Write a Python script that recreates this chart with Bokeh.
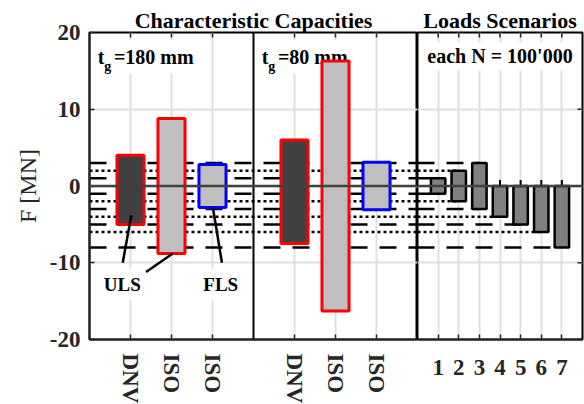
import math
from bokeh.plotting import figure
from bokeh.models import FixedTicker, Label, Range1d, Span
from bokeh.layouts import row
from bokeh.embed import file_html
from bokeh.resources import INLINE

# ---------------- data ----------------
cap_x = [1, 2, 3, 5, 6, 7]
cap_labels = ["DNV", "ISO", "ISO", "DNV", "ISO", "ISO"]
cap_top = [4, 8.8, 2.8, 6, 16.3, 3.1]
cap_bottom = [-5, -8.8, -2.8, -7.5, -16.3, -3.1]
cap_fill = ["#404040", "#bfbfbf", "#bfbfbf", "#404040", "#bfbfbf", "#bfbfbf"]
cap_edge = ["#ff0000", "#ff0000", "#0000ff", "#ff0000", "#ff0000", "#0000ff"]
panel_thickness = ["=180 mm", "=80 mm"]

load_x = [1, 2, 3, 4, 5, 6, 7]
load_top = [1, 2, 3, 0, 0, 0, 0]
load_bottom = [-1, -2, -3, -4, -5, -6, -8]

y_ticks = [-20, -10, 0, 10, 20]
y_tick_labels = ["-20", "-10", "0", "10", "20"]

FONT = "Liberation Serif"
AX = "#262626"
GRID = "#e0e0e0"

# reference lines from load extremes (alternating dashed / dotted)
dash_y, dash_x, dot_y, dot_x = [], [], [], []
for i, (xx, t, b) in enumerate(zip(load_x, load_top, load_bottom)):
    for v in (t, b):
        if v != 0:
            if i % 2 == 0:
                dash_y.append(v); dash_x.append(xx)
            else:
                dot_y.append(v); dot_x.append(xx)

DASH = "17 12"
DOT = "3 3"
VERT = math.pi / 2


def style(p):
    p.outline_line_color = "black"
    p.outline_line_width = 2
    p.outline_line_alpha = 1
    p.background_fill_color = "white"
    p.border_fill_color = "white"
    p.title.text_font = FONT
    p.title.text_font_size = "22px"
    p.title.text_font_style = "bold"
    p.title.align = "center"
    p.title.standoff = 0
    p.title.text_color = "black"
    for g in (p.xgrid, p.ygrid):
        g.grid_line_color = GRID
        g.grid_line_width = 2
    for ax in p.axis:
        ax.major_tick_in = 5
        ax.major_tick_out = 0
        ax.minor_tick_line_color = None
        ax.axis_line_color = AX
        ax.axis_line_width = 2
        ax.major_tick_line_color = AX
        ax.major_tick_line_width = 1.5
        ax.major_label_text_font = FONT
        ax.major_label_text_font_size = "23px"
        ax.major_label_text_font_style = "bold"
        ax.major_label_text_color = AX


def label(p, x, y, text, size, **kw):
    p.add_layout(Label(x=x, y=y, text=text, text_font=FONT, text_font_size=size,
                       text_font_style="bold", text_baseline="alphabetic",
                       text_color="black", **kw))


# ---------------- figure A: characteristic capacities ----------------
pa = figure(width=417, height=406, x_range=Range1d(0, 8),
            y_range=Range1d(-20, 20), output_backend="svg", toolbar_location=None,
            min_border_left=89, min_border_right=0, min_border_top=32,
            min_border_bottom=62, title="Characteristic Capacities")
style(pa)
pa.xaxis.ticker = FixedTicker(ticks=cap_x)
pa.xaxis.major_label_overrides = {x: l for x, l in zip(cap_x, cap_labels)}
pa.xaxis.major_label_orientation = "vertical"
pa.xaxis.major_label_standoff = 14
pa.yaxis.ticker = FixedTicker(ticks=y_ticks)
pa.yaxis.major_label_overrides = {v: s for v, s in zip(y_ticks, y_tick_labels)}
pa.yaxis.major_label_standoff = 9
pa.yaxis.axis_label = "F [MN]"
pa.yaxis.axis_label_text_font = FONT
pa.yaxis.axis_label_text_font_size = "24px"
pa.yaxis.axis_label_text_font_style = "normal"
pa.yaxis.axis_label_text_color = AX
pa.yaxis.axis_label_standoff = 6

# inward tick marks on the top edge (half of each mark is clipped by the frame)
pa.scatter(x=cap_x, y=[pa.y_range.end] * len(cap_x), marker="dash", angle=VERT,
           size=10, line_color=AX, line_width=1.5)

pa.segment(x0=[0] * len(dash_y), x1=[8] * len(dash_y), y0=dash_y, y1=dash_y,
           line_color="black", line_width=2.5, line_dash=DASH)
pa.segment(x0=[0] * len(dot_y), x1=[8] * len(dot_y), y0=dot_y, y1=dot_y,
           line_color="black", line_width=2.5, line_dash=DOT)
pa.vbar(x=cap_x, width=0.66, top=cap_top, bottom=cap_bottom,
        fill_color=cap_fill, line_color=cap_edge, line_width=3, level="overlay")
pa.segment(x0=[0], x1=[8], y0=[0], y1=[0], line_color="#404040", line_width=2.5,
           level="overlay")

# leader lines for ULS / FLS
pa.segment(x0=[0.81, 1.38, 3.01], y0=[-10.0, -11.2, -2.8],
           x1=[1.02, 2.03, 3.23], y1=[-3.8, -8.8, -10.0],
           line_color="black", line_width=2.5, level="overlay")

pa.add_layout(Span(location=4, dimension="height", line_color="black", line_width=2))

for px, txt in zip([0, 4], panel_thickness):
    label(pa, px + 0.45, 16.8, txt, "20px", background_fill_color="white", padding=6)
    label(pa, px + 0.2, 16.8, "t", "20px")
    label(pa, px + 0.36, 15.6, "g", "14px")

for lx, txt in [(0.8, "ULS"), (3.2, "FLS")]:
    label(pa, lx, -12.8, txt, "19px", text_align="center",
          background_fill_color="white", padding=5)

# ---------------- figure B: load scenarios ----------------
pb = figure(width=167, height=406, x_range=Range1d(0, 8),
            y_range=pa.y_range, output_backend="svg", toolbar_location=None,
            min_border_left=0, min_border_right=2, min_border_top=32,
            min_border_bottom=62, title="Loads Scenarios")
style(pb)
pb.xaxis.ticker = FixedTicker(ticks=load_x)
pb.xaxis.major_label_standoff = 20
pb.yaxis.ticker = FixedTicker(ticks=y_ticks)
pb.yaxis.visible = False

# inward tick marks on the top and right edges, and at the zero line
pb.scatter(x=load_x, y=[pb.y_range.end] * len(load_x), marker="dash", angle=VERT,
           size=10, line_color=AX, line_width=1.5)
pb.scatter(x=[pb.x_range.end] * len(y_ticks), y=y_ticks, marker="dash",
           size=10, line_color=AX, line_width=1.5)
pb.scatter(x=load_x, y=[0] * len(load_x), marker="dash", angle=VERT,
           size=12, line_color="black", line_width=2)

pb.segment(x0=[0] * len(dash_y), x1=dash_x, y0=dash_y, y1=dash_y,
           line_color="black", line_width=2.5, line_dash=DASH)
pb.segment(x0=[0] * len(dot_y), x1=dot_x, y0=dot_y, y1=dot_y,
           line_color="black", line_width=2.5, line_dash=DOT)
pb.vbar(x=load_x, width=0.7, top=load_top, bottom=load_bottom,
        fill_color="#808080", line_color="black", line_width=2.5)
pb.segment(x0=[0], x1=[8], y0=[0], y1=[0], line_color="#404040", line_width=2.5)

label(pb, 4, 16.9, "each N = 100'000", "20px", text_align="center",
      background_fill_color="white", padding=3)

layout = row(pa, pb)
open("out.html", "w").write(file_html(layout, INLINE))
